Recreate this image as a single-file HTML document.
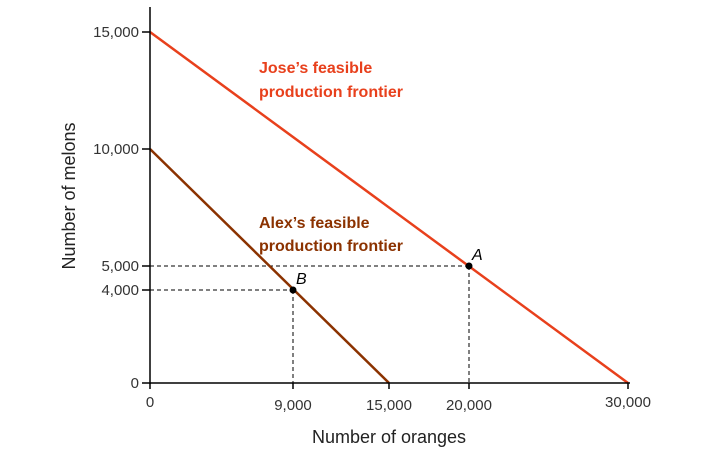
<!DOCTYPE html>
<html><head><style>body{margin:0;background:#fff}</style></head><body>
<svg width="708" height="456" xmlns="http://www.w3.org/2000/svg" font-family="Liberation Sans, sans-serif">
<g stroke="#000" stroke-width="1" stroke-dasharray="4,3" fill="none">
<line x1="150" y1="266" x2="469" y2="266"/>
<line x1="469" y1="266" x2="469" y2="383"/>
<line x1="150" y1="290" x2="293" y2="290"/>
<line x1="293" y1="290" x2="293" y2="383"/>
</g>
<line x1="150" y1="32" x2="628" y2="383" stroke="#e8401c" stroke-width="2.5"/>
<line x1="150" y1="149" x2="389" y2="383" stroke="#8b3200" stroke-width="2.5"/>
<g stroke="#000" stroke-width="1.5">
<line x1="150" y1="7" x2="150" y2="384"/>
<line x1="150" y1="383" x2="630" y2="383"/>
<line x1="142" y1="32" x2="150" y2="32"/>
<line x1="142" y1="149" x2="150" y2="149"/>
<line x1="142" y1="266" x2="150" y2="266"/>
<line x1="142" y1="290" x2="150" y2="290"/>
<line x1="142" y1="383" x2="150" y2="383"/>
<line x1="150" y1="383" x2="150" y2="389"/>
<line x1="293" y1="383" x2="293" y2="389"/>
<line x1="389" y1="383" x2="389" y2="389"/>
<line x1="469" y1="383" x2="469" y2="389"/>
<line x1="628" y1="383" x2="628" y2="389"/>
</g>
<circle cx="469" cy="266" r="3.5" fill="#000"/>
<circle cx="293" cy="290" r="3.5" fill="#000"/>
<text x="472" y="260" font-size="16" font-style="italic">A</text>
<text x="296" y="284" font-size="16" font-style="italic">B</text>
<g font-size="15" fill="#333" text-anchor="end">
<text x="139" y="37">15,000</text>
<text x="139" y="154">10,000</text>
<text x="139" y="271">5,000</text>
<text x="139" y="295">4,000</text>
<text x="139" y="388">0</text>
</g>
<g font-size="15" fill="#333" text-anchor="middle">
<text x="150" y="407">0</text>
<text x="293" y="410">9,000</text>
<text x="389" y="410">15,000</text>
<text x="469" y="410">20,000</text>
<text x="628" y="407">30,000</text>
</g>
<text x="389" y="443" font-size="18" fill="#222" text-anchor="middle">Number of oranges</text>
<text transform="translate(75,196) rotate(-90)" font-size="18" fill="#222" text-anchor="middle">Number of melons</text>
<g font-size="16" font-weight="bold" fill="#e8401c">
<text x="259" y="73">Jose’s feasible</text>
<text x="259" y="97">production frontier</text>
</g>
<g font-size="16" font-weight="bold" fill="#8b3200">
<text x="259" y="228">Alex’s feasible</text>
<text x="259" y="251">production frontier</text>
</g>
</svg>
</body></html>
